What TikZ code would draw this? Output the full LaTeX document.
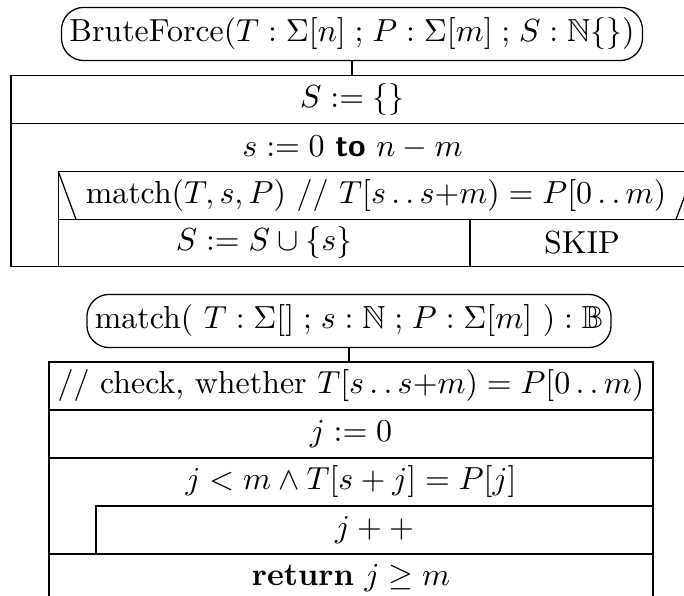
\documentclass[tikz,border=0pt]{standalone}
\usepackage{amssymb}
\usetikzlibrary{positioning}
\tikzset{
  hdr/.style={draw,rounded corners=7pt,inner xsep=2.5pt,minimum height=15.7pt},
  stm/.style={inner sep=0pt}
}
\newcommand{\twodots}{\mathinner{\ldotp\ldotp}}
\newcommand{\sep}{\mathrel{;}}
\begin{document}
\begin{tikzpicture}[x=0.3135pt,y=-0.3135pt,line width=.4pt]
\useasboundingbox (0,0) rectangle (684,596);
\clip (0,0) rectangle (684,596);
% BruteForce
\node[hdr] (bfhead) at (352,34) {BruteForce$(T:\Sigma[n]\sep P:\Sigma[m]\sep S:\mathbb{N}\{\})$};
\coordinate (bftop) at (352,75.3);
\draw (bfhead.south) -- (bftop);
\draw (11,75.3) rectangle (694,266.7);
\draw (11,123.3) -- (694,123.3);
\draw (58.3,266.7) |- (694,171.5);
\draw (58.3,219.3) -- (694,219.3) (470,219.3) -- (470,266.7);
\draw (58.3,171.5) -- (76,219.3) (694,171.5) -- (676,219.3);
\node[stm] (sinit) at (352.5,99.3) {$S:=\{\}$};
\node[stm] (sloop) at (352.5,147.4) {$s:=0$ \textsf{\textbf{to}} $n-m$};
\node[stm] (scond) at (376,195.4) {match$(T,s,P)$ $//$ $T[s\twodots s{+}m)=P[0\twodots m)$};
\node[stm] (sthen) at (264,243) {$S:=S\cup\{s\}$};
\node[stm] (sskip) at (582,243) {SKIP};
% match
\node[hdr] (mhead) at (349,321) {match$(\ T:\Sigma[]\sep s:\mathbb{N}\sep P:\Sigma[m]\ ):\mathbb{B}$};
\coordinate (mtop) at (349,362);
\draw (mhead.south) -- (mtop);
\draw (49,362) rectangle (653,602);
\foreach \y in {410,458,554}
  \draw (49,\y) -- (653,\y);
\draw (96,554) |- (653,506);
\node[stm] (mcmt) at (351,386) {$//$ check, whether $T[s\twodots s{+}m)=P[0\twodots m)$};
\node[stm] (mjset) at (351,434) {$j:=0$};
\node[stm] (mloop) at (351,482) {$j<m\wedge T[s+j]=P[j]$};
\node[stm] (minc) at (374.5,530) {$j++$};
\node[stm] (mret) at (351,578) {\textbf{return} $j\geq m$};
\end{tikzpicture}
\end{document}
